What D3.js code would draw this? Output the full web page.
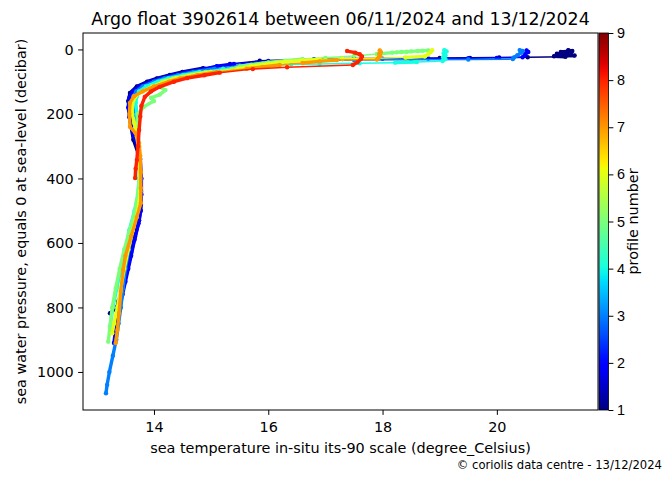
<!DOCTYPE html>
<html>
<head>
<meta charset="utf-8">
<script src="https://cdn.jsdelivr.net/npm/d3@7"></script>
<style>
    body {
        margin: 0;
        background: white;
        font-family: "DejaVu Sans", sans-serif;
    }
    svg {
        display: block;
    }
    .tick text {
        font-size: 14.4px;
        fill: #000;
    }
    .tick line {
        stroke: #000;
        stroke-width: 1;
    }
</style>
</head>
<body>
<svg id="chart"></svg>
<script>
    // Data: one pressure / temperature array per profile
    const profileNumbers = [1, 2, 3, 4, 5, 6, 7, 8];

    const pres1 = [2, 5, 8, 10, 13, 15, 17, 19, 21, 23, 24, 25, 26, 26.5, 27, 28, 30, 35, 45, 58, 70, 79, 90, 100, 115, 135, 160, 200, 240, 280, 320, 380, 440, 480, 530, 580, 630, 680, 730, 780, 800, 818];
    const temp1 = [21.25, 21.32, 21.12, 21.3, 21.05, 21.28, 21.18, 21.36, 21.0, 21.2, 20.54, 20.04, 19.53, 19.0, 18.4, 17.5, 16.8, 15.85, 15.33, 14.86, 14.5, 14.28, 14.05, 13.88, 13.7, 13.58, 13.55, 13.57, 13.6, 13.64, 13.72, 13.76, 13.77, 13.77, 13.74, 13.67, 13.6, 13.54, 13.47, 13.38, 13.35, 13.23];

    const pres2 = [3, 8, 14, 20, 24, 26, 27, 28, 29, 30, 32, 36, 45, 52, 60, 70, 80, 90, 100, 115, 130, 150, 180, 210, 240, 270, 300, 340, 400, 450, 500, 540, 590, 640, 680, 720, 760, 800, 840, 880, 910];
    const temp2 = [20.52, 20.55, 20.5, 20.48, 20.45, 20.0, 19.5, 18.8, 18.0, 17.3, 16.6, 16.0, 15.4, 15.1, 14.9, 14.58, 14.32, 14.1, 13.93, 13.74, 13.63, 13.57, 13.55, 13.57, 13.6, 13.65, 13.72, 13.76, 13.78, 13.78, 13.77, 13.73, 13.66, 13.6, 13.55, 13.5, 13.45, 13.4, 13.36, 13.32, 13.3];

    const pres3 = [2, 5, 10, 18, 25, 30, 31, 32, 33, 35, 38, 43, 50, 60, 70, 80, 90, 100, 115, 130, 145, 165, 190, 230, 280, 340, 400, 450, 500, 560, 620, 680, 740, 800, 850, 900, 950, 1000, 1040, 1066];
    const temp3 = [20.4, 20.45, 20.42, 20.36, 20.3, 20.28, 19.5, 18.5, 17.5, 16.8, 16.3, 15.9, 15.5, 15.06, 14.69, 14.42, 14.18, 14.0, 13.8, 13.69, 13.64, 13.62, 13.64, 13.68, 13.72, 13.75, 13.76, 13.75, 13.7, 13.62, 13.56, 13.5, 13.46, 13.42, 13.38, 13.34, 13.28, 13.22, 13.18, 13.16];

    const pres4 = [2, 6, 12, 18, 24, 30, 36, 39, 41, 43, 45, 47, 50, 55, 60, 70, 80, 90, 100, 115, 130, 145, 165, 200, 250, 300, 350, 400, 450, 500, 560, 620, 680, 740, 800, 860];
    const temp4 = [19.08, 19.12, 19.07, 19.1, 19.06, 19.1, 19.05, 18.6, 18.22, 17.6, 16.9, 16.4, 16.0, 15.6, 15.21, 14.8, 14.51, 14.25, 14.07, 13.86, 13.74, 13.7, 13.68, 13.7, 13.72, 13.74, 13.75, 13.74, 13.72, 13.66, 13.57, 13.5, 13.42, 13.35, 13.28, 13.23];

    const pres5 = [3, 4, 5, 6, 7, 8, 9, 10, 14, 20, 26, 30, 35, 40, 47, 53, 60, 70, 80, 90, 100, 112, 126, 140, 150, 160, 178, 200, 240, 290, 350, 410, 470, 520, 570, 620, 680, 740, 800, 860, 906];
    const temp5 = [18.8, 18.7, 18.62, 18.5, 18.42, 18.33, 18.25, 18.17, 17.9, 17.5, 17.0, 16.6, 16.3, 16.0, 15.7, 15.5, 15.37, 14.91, 14.6, 14.33, 14.14, 14.05, 14.2, 14.1, 13.95, 14.0, 13.82, 13.72, 13.7, 13.73, 13.75, 13.74, 13.7, 13.64, 13.56, 13.48, 13.4, 13.33, 13.27, 13.23, 13.2];

    const pres6 = [2, 8, 15, 22, 25, 27, 29, 31, 34, 38, 44, 52, 60, 70, 80, 90, 100, 115, 130, 145, 170, 200, 230, 270, 320, 380, 440, 500, 560, 620, 680, 740, 800, 850, 880];
    const temp6 = [18.87, 18.84, 18.8, 18.74, 18.4, 17.9, 17.3, 16.9, 16.6, 16.3, 16.0, 15.7, 15.47, 14.99, 14.66, 14.38, 14.19, 13.97, 13.8, 13.68, 13.62, 13.62, 13.66, 13.7, 13.74, 13.76, 13.76, 13.72, 13.63, 13.55, 13.48, 13.42, 13.36, 13.3, 13.27];

    const pres7 = [3, 8, 14, 20, 26, 31, 33, 37, 42, 48, 54, 60, 70, 80, 90, 100, 115, 130, 145, 166, 200, 240, 260, 290, 330, 380, 430, 476, 520, 580, 640, 684, 750, 817, 870, 910];
    const temp7 = [17.95, 17.97, 17.94, 17.96, 17.93, 17.9, 17.2, 16.9, 16.6, 16.2, 15.9, 15.62, 15.1, 14.76, 14.46, 14.26, 14.0, 13.8, 13.65, 13.58, 13.57, 13.58, 13.68, 13.74, 13.76, 13.77, 13.77, 13.77, 13.7, 13.6, 13.5, 13.46, 13.42, 13.39, 13.36, 13.33];

    const pres8 = [5, 10, 15, 22, 30, 40, 48, 55, 61, 72, 80, 89, 100, 116, 130, 147, 175, 208, 250, 300, 343, 370, 399];
    const temp8 = [17.38, 17.52, 17.6, 17.64, 17.62, 17.56, 17.48, 16.33, 15.73, 15.15, 14.88, 14.58, 14.35, 14.1, 13.95, 13.84, 13.78, 13.76, 13.74, 13.72, 13.7, 13.68, 13.67];

    const xTicks = [14, 16, 18, 20];
    const yTicks = [0, 200, 400, 600, 800, 1000];
    const colorTicks = [1, 2, 3, 4, 5, 6, 7, 8, 9];

    const titleText = "Argo float 3902614 between 06/11/2024 and 13/12/2024";
    const xLabelText = "sea temperature in-situ its-90 scale (degree_Celsius)";
    const yLabelText = "sea water pressure, equals 0 at sea-level (decibar)";
    const colorLabelText = "profile number";
    const footerText = "\u00a9 coriolis data centre - 13/12/2024";

    let presList = [pres1, pres2, pres3, pres4, pres5, pres6, pres7, pres8];
    let tempList = [temp1, temp2, temp3, temp4, temp5, temp6, temp7, temp8];
    let profiles = profileNumbers.map((n, i) => ({
        number: n,
        points: presList[i].map((p, j) => ({ p: p, t: tempList[i][j] }))
    }));

    // matplotlib "jet" colormap
    let jetR = d3.scaleLinear().domain([0, 0.35, 0.66, 0.89, 1]).range([0, 0, 1, 1, 0.5]).clamp(true);
    let jetG = d3.scaleLinear().domain([0, 0.125, 0.375, 0.64, 0.91, 1]).range([0, 0, 1, 1, 0, 0]).clamp(true);
    let jetB = d3.scaleLinear().domain([0, 0.11, 0.34, 0.65, 1]).range([0.5, 1, 1, 0, 0]).clamp(true);
    function jet(v) {
        return d3.rgb(jetR(v) * 255, jetG(v) * 255, jetB(v) * 255).formatHex();
    }

    // config
    function getConfig() {
        let width = 663;
        let height = 479;
        let plot = { left: 83, right: 598, top: 33, bottom: 410 };
        let cbar = { left: 599, right: 608.5 };
        let container = d3.select("#chart")
            .attr("width", width)
            .attr("height", height);
        return { width, height, plot, cbar, container };
    }

    // scales
    function getScales(config) {
        let { plot } = config;
        let xScale = d3.scaleLinear()
            .domain([12.758, 21.77])
            .range([plot.left, plot.right]);
        let yScale = d3.scaleLinear()
            .domain([-51, 1118])
            .range([plot.top, plot.bottom]);
        let cScale = d3.scaleLinear()
            .domain([1, 9])
            .range([plot.bottom, plot.top]);
        let colorOf = n => jet((n - 1) / 8);
        return { xScale, yScale, cScale, colorOf };
    }

    // profiles: segments (thick where samples are close, like dense markers) + dots
    function drawProfiles(config, scales) {
        let { container, plot } = config;
        let { xScale, yScale, colorOf } = scales;

        container.append("clipPath").attr("id", "plotClip")
            .append("rect")
            .attr("x", plot.left).attr("y", plot.top)
            .attr("width", plot.right - plot.left)
            .attr("height", plot.bottom - plot.top);

        let body = container.append("g").attr("clip-path", "url(#plotClip)");

        profiles.forEach(pr => {
            let g = body.append("g");
            let color = colorOf(pr.number);
            let segs = d3.pairs(pr.points);
            g.selectAll("line")
                .data(segs)
                .enter()
                .append("line")
                .attr("x1", d => xScale(d[0].t))
                .attr("y1", d => yScale(d[0].p))
                .attr("x2", d => xScale(d[1].t))
                .attr("y2", d => yScale(d[1].p))
                .attr("stroke", color)
                .attr("stroke-linecap", "round")
                .attr("stroke-width", d => {
                    let dx = xScale(d[1].t) - xScale(d[0].t);
                    let dy = yScale(d[1].p) - yScale(d[0].p);
                    return Math.hypot(dx, dy) < 22 ? 3.4 : 1.5;
                });
            g.selectAll("circle")
                .data(pr.points)
                .enter()
                .append("circle")
                .attr("cx", d => xScale(d.t))
                .attr("cy", d => yScale(d.p))
                .attr("r", 2.2)
                .attr("fill", color);
        });
    }

    // axes
    function drawAxes(config, scales) {
        let { container, plot } = config;
        let { xScale, yScale } = scales;

        let axisX = d3.axisBottom(xScale)
            .tickValues(xTicks)
            .tickSizeOuter(0)
            .tickSize(4.9)
            .tickPadding(7);
        container.append("g")
            .attr("transform", `translate(0, ${plot.bottom})`)
            .call(axisX)
            .call(g => g.select(".domain").remove());

        let axisY = d3.axisLeft(yScale)
            .tickValues(yTicks)
            .tickFormat(d3.format("d"))
            .tickSizeOuter(0)
            .tickSize(4.9)
            .tickPadding(4.5);
        container.append("g")
            .attr("transform", `translate(${plot.left}, 0)`)
            .call(axisY)
            .call(g => g.select(".domain").remove());

        container.selectAll(".tick text").attr("font-family", "DejaVu Sans");

        container.append("rect")
            .attr("x", plot.left).attr("y", plot.top)
            .attr("width", plot.right - plot.left)
            .attr("height", plot.bottom - plot.top)
            .attr("fill", "none")
            .attr("stroke", "#000")
            .attr("stroke-width", 1);
    }

    // colorbar
    function drawColorbar(config, scales) {
        let { container, plot, cbar } = config;
        let { cScale } = scales;

        let grad = container.append("defs").append("linearGradient")
            .attr("id", "jetGrad")
            .attr("x1", 0).attr("y1", 1).attr("x2", 0).attr("y2", 0);
        d3.range(0, 1.0001, 0.02).forEach(v => {
            grad.append("stop")
                .attr("offset", v)
                .attr("stop-color", jet(v));
        });

        container.append("rect")
            .attr("x", cbar.left).attr("y", plot.top)
            .attr("width", cbar.right - cbar.left)
            .attr("height", plot.bottom - plot.top)
            .attr("fill", "url(#jetGrad)")
            .attr("stroke", "#000")
            .attr("stroke-width", 0.8);

        let axisC = d3.axisRight(cScale)
            .tickValues(colorTicks)
            .tickSizeOuter(0)
            .tickSize(4.9)
            .tickPadding(3.5);
        container.append("g")
            .attr("transform", `translate(${cbar.right}, 0)`)
            .call(axisC)
            .call(g => g.select(".domain").remove());

        container.append("text")
            .attr("transform", `translate(638, ${(plot.top + plot.bottom) / 2}) rotate(-90)`)
            .attr("text-anchor", "middle")
            .attr("font-size", 14.4)
            .text(colorLabelText);
    }

    // titles and labels
    function drawTexts(config) {
        let { container, plot, width } = config;
        let midX = (plot.left + plot.right) / 2;

        container.append("text")
            .attr("x", midX).attr("y", 24.5)
            .attr("text-anchor", "middle")
            .attr("font-size", 17.4)
            .text(titleText);

        container.append("text")
            .attr("x", midX).attr("y", 452.5)
            .attr("text-anchor", "middle")
            .attr("font-size", 14.4)
            .text(xLabelText);

        container.append("text")
            .attr("transform", `translate(26, ${(plot.top + plot.bottom) / 2}) rotate(-90)`)
            .attr("text-anchor", "middle")
            .attr("font-size", 14.4)
            .text(yLabelText);

        container.append("text")
            .attr("x", width - 1).attr("y", 469)
            .attr("text-anchor", "end")
            .attr("font-size", 11.6)
            .text(footerText);
    }

    let config = getConfig();
    let scales = getScales(config);
    drawProfiles(config, scales);
    drawAxes(config, scales);
    drawColorbar(config, scales);
    drawTexts(config);
</script>
</body>
</html>
